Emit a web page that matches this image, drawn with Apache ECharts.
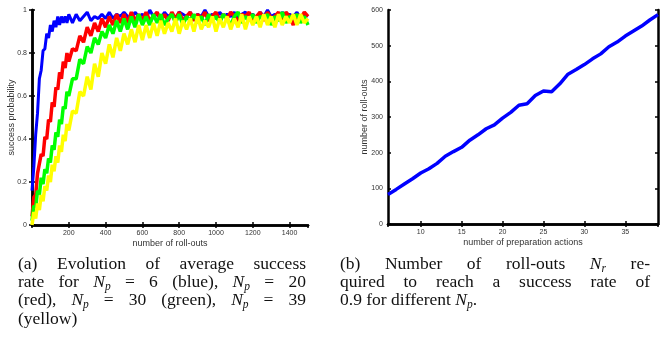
<!DOCTYPE html>
<html>
<head>
<meta charset="utf-8">
<script src="https://cdn.jsdelivr.net/npm/echarts@6/dist/echarts.min.js"></script>
<style>
html,body{margin:0;padding:0;background:#fff;}
#wrap{position:relative;width:660px;height:353px;overflow:hidden;}
#chart{position:absolute;left:0;top:0;width:660px;height:353px;}
.cap{position:absolute;font-family:'Liberation Serif','Times New Roman',serif;font-size:17.5px;line-height:18.2px;color:#111;}
.cap .j{text-align:justify;text-align-last:justify;white-space:normal;}
.cap sub{font-size:11.5px;vertical-align:-3px;line-height:0;}
</style>
</head>
<body>
<div id="wrap">
<div id="chart"></div>
<div class="cap" style="left:18px;top:254px;width:288px;">
<div class="j">(a) Evolution of average success</div>
<div class="j">rate for <i>N</i><sub><i>p</i></sub> = 6 (blue), <i>N</i><sub><i>p</i></sub> = 20</div>
<div class="j">(red), <i>N</i><sub><i>p</i></sub> = 30 (green), <i>N</i><sub><i>p</i></sub> = 39</div>
<div>(yellow)</div>
</div>
<div class="cap" style="left:340px;top:254px;width:310px;">
<div class="j">(b) Number of roll-outs <i>N</i><sub><i>r</i></sub> re-</div>
<div class="j">quired to reach a success rate of</div>
<div>0.9 for different <i>N</i><sub><i>p</i></sub>.</div>
</div>
</div>
<script>
// Left chart: success probability vs number of roll-outs
var rollouts = [0,10,20,30,40,50,60,70,80,90,100,110,120,130,140,150,160,170,180,190,200,
220,240,260,280,300,320,340,360,380,400,420,440,460,480,500,520,540,560,580,600,
620,640,660,680,700,720,740,760,780,800,820,840,860,880,900,920,940,960,980,1000,
1020,1040,1060,1080,1100,1120,1140,1160,1180,1200,1220,1240,1260,1280,1300,1320,1340,1360,1380,1400,
1420,1440,1460,1480,1500];

var blueNp6 = [0.16,0.27,0.42,0.52,0.68,0.72,0.81,0.82,0.89,0.87,0.93,0.90,0.95,0.92,0.97,0.93,0.97,0.94,0.97,0.94,0.98,
0.94,0.98,0.95,0.97,0.99,0.95,0.97,0.96,0.98,0.96,
0.99,0.96,0.98,0.97,0.99,0.97,0.96,0.99,0.97,0.98,
0.96,1.00,0.97,0.98,0.96,0.99,0.97,0.98,0.96,0.99,
0.98,0.97,0.99,0.96,0.98,0.97,1.00,0.97,0.98,0.96,
0.99,0.97,0.98,0.97,0.99,0.96,0.98,0.99,0.97,0.98,
0.96,0.99,0.97,1.00,0.97,0.98,0.96,0.99,0.97,0.98,
0.97,0.99,0.96,0.98,0.97];

var redNp20 = [0.04,0.13,0.14,0.24,0.24,0.33,0.32,0.41,0.40,0.49,0.48,0.57,0.55,0.64,0.63,0.71,0.68,0.76,0.73,0.80,0.76,
0.82,0.81,0.88,0.85,0.92,0.88,0.94,0.90,0.96,0.92,0.97,0.93,0.98,0.94,0.98,0.94,0.99,0.95,0.98,0.95,
0.99,0.95,0.97,0.99,0.95,0.98,0.95,0.99,0.96,0.99,
0.95,0.97,0.99,0.95,0.98,0.96,0.99,0.95,0.97,0.99,
0.95,0.98,0.96,0.99,0.97,0.95,0.98,0.97,0.99,0.95,
0.97,0.99,0.95,0.99,0.96,0.97,0.99,0.95,0.99,0.97,
0.93,0.98,0.96,0.99,0.97];

var greenNp30 = [0.02,0.09,0.08,0.16,0.14,0.22,0.19,0.26,0.24,0.31,0.29,0.37,0.35,0.43,0.41,0.49,0.47,0.55,0.54,0.62,0.60,
0.68,0.68,0.77,0.75,0.83,0.80,0.87,0.84,0.90,0.87,0.93,0.89,0.95,0.90,0.96,0.91,0.97,0.92,0.98,0.93,
0.97,0.93,0.98,0.94,0.98,0.93,0.96,0.98,0.94,0.98,
0.93,0.97,0.95,0.98,0.94,0.97,0.93,0.98,0.95,0.97,
0.94,0.98,0.96,0.93,0.97,0.99,0.94,0.97,0.95,0.98,
0.94,0.97,0.96,0.98,0.93,0.97,0.95,0.99,0.94,0.97,
0.96,0.98,0.94,0.97,0.93];

var yellowNp39 = [0.00,0.06,0.03,0.10,0.07,0.14,0.11,0.18,0.16,0.23,0.20,0.28,0.25,0.32,0.29,0.37,0.34,0.42,0.39,0.47,0.44,
0.53,0.52,0.62,0.60,0.69,0.63,0.75,0.69,0.80,0.75,0.84,0.78,0.87,0.81,0.89,0.84,0.91,0.85,0.93,0.86,
0.93,0.87,0.94,0.88,0.95,0.89,0.94,0.90,0.96,0.89,
0.95,0.91,0.96,0.90,0.97,0.91,0.95,0.92,0.97,0.90,
0.96,0.92,0.97,0.91,0.96,0.92,0.98,0.91,0.97,0.93,
0.97,0.92,0.98,0.93,0.97,0.92,0.98,0.93,0.97,0.94,
0.98,0.93,0.98,0.94,0.96];

// Right chart: roll-outs needed to reach 0.9 vs number of preparation actions
var prepActions = [6,7,8,9,10,11,12,13,14,15,16,17,18,19,20,21,22,23,24,25,26,27,28,29,30,31,32,33,34,35,36,37,38,39];
var rolloutsNeeded = [83,97,112,127,143,155,170,190,203,215,235,250,267,278,297,313,333,337,360,373,371,393,420,433,447,463,477,497,510,527,541,555,572,587];

function pairs(xs, ys){ var o=[]; for (var i=0;i<xs.length;i++) o.push([xs[i], ys[i]]); return o; }

var lab = {color:'#333', fontSize:7, fontFamily:'Liberation Sans, Arial, sans-serif', formatter:function(v){return String(v);}};
var nameStyle = {color:'#333', fontSize:9, fontFamily:'Liberation Sans, Arial, sans-serif'};
var frame = {show:true, lineStyle:{color:'#000', width:2.5}};
var tickIn = {show:true, inside:true, length:3, lineStyle:{color:'#000', width:1.5}};

var chart = echarts.init(document.getElementById('chart'), null, {renderer:'canvas'});
chart.setOption({
  animation:false,
  backgroundColor:'#fff',
  grid:[
    {left:32, top:10, width:276, height:215},
    {left:388, top:10, width:270, height:214}
  ],
  xAxis:[
    {gridIndex:0, type:'value', min:0, max:1500, interval:200, position:'bottom',
     axisLine:frame, axisTick:tickIn, splitLine:{show:false},
     axisLabel:Object.assign({showMinLabel:false, showMaxLabel:false, margin:5}, lab),
     name:'number of roll-outs', nameLocation:'middle', nameGap:14.5, nameMoveOverlap:false, nameTextStyle:nameStyle},
    {gridIndex:0, type:'value', min:0, max:1500, interval:200, position:'top',
     axisLine:frame, axisTick:tickIn, splitLine:{show:false}, axisLabel:{show:false}},
    {gridIndex:1, type:'value', min:6, max:39, splitNumber:6, minInterval:5, maxInterval:5, position:'bottom',
     axisLine:frame, axisTick:tickIn, splitLine:{show:false},
     axisLabel:Object.assign({showMinLabel:false, showMaxLabel:false, margin:5}, lab),
     name:'number of preparation actions', nameLocation:'middle', nameGap:14, nameMoveOverlap:false, nameTextStyle:nameStyle},
    {gridIndex:1, type:'value', min:6, max:39, splitNumber:6, minInterval:5, maxInterval:5, position:'top',
     axisLine:frame, axisTick:tickIn, splitLine:{show:false}, axisLabel:{show:false}}
  ],
  yAxis:[
    {gridIndex:0, type:'value', min:0, max:1, interval:0.2, position:'left',
     axisLine:frame, axisTick:tickIn, splitLine:{show:false},
     axisLabel:Object.assign({margin:5}, lab),
     name:'success probability', nameLocation:'middle', nameGap:15.5, nameMoveOverlap:false, nameTextStyle:nameStyle},
    {gridIndex:0, type:'value', min:0, max:1, interval:0.2, position:'right',
     axisLine:frame, axisTick:tickIn, splitLine:{show:false}, axisLabel:{show:false}},
    {gridIndex:1, type:'value', min:0, max:600, interval:100, position:'left',
     axisLine:frame, axisTick:tickIn, splitLine:{show:false},
     axisLabel:Object.assign({margin:5}, lab),
     name:'number of roll-outs', nameLocation:'middle', nameGap:18.5, nameMoveOverlap:false, nameTextStyle:nameStyle},
    {gridIndex:1, type:'value', min:0, max:600, interval:100, position:'right',
     axisLine:frame, axisTick:tickIn, splitLine:{show:false}, axisLabel:{show:false}}
  ],
  series:[
    {type:'line', xAxisIndex:0, yAxisIndex:0, data:pairs(rollouts, blueNp6), showSymbol:false, lineStyle:{color:'#0000ff', width:3}, z:2},
    {type:'line', xAxisIndex:0, yAxisIndex:0, data:pairs(rollouts, redNp20), showSymbol:false, lineStyle:{color:'#ff0000', width:3.5}, z:3},
    {type:'line', xAxisIndex:0, yAxisIndex:0, data:pairs(rollouts, greenNp30), showSymbol:false, lineStyle:{color:'#00ff00', width:3.5}, z:4},
    {type:'line', xAxisIndex:0, yAxisIndex:0, data:pairs(rollouts, yellowNp39), showSymbol:false, lineStyle:{color:'#ffff00', width:3.5}, z:5},
    {type:'line', xAxisIndex:2, yAxisIndex:2, data:pairs(prepActions, rolloutsNeeded), showSymbol:false, lineStyle:{color:'#0000ff', width:3.5}, z:2}
  ]
});
</script>
</body>
</html>
